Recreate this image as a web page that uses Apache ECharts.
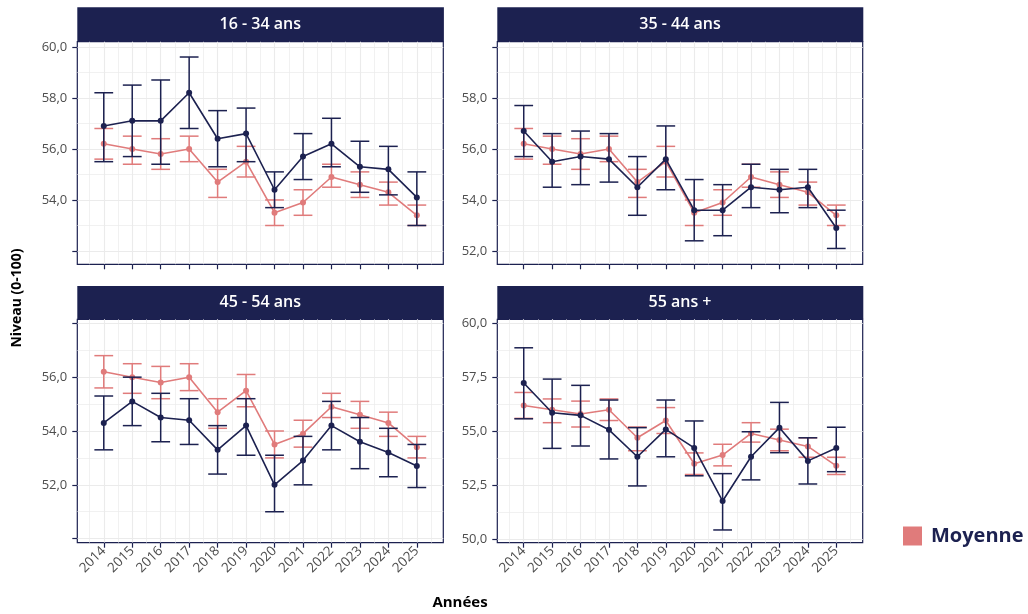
<!DOCTYPE html>
<html>
<head>
<meta charset="utf-8">
<script src="https://cdn.jsdelivr.net/npm/echarts@6/dist/echarts.min.js"></script>
<style>
html,body{margin:0;padding:0;background:#fff;}
#chart{width:1028px;height:614px;}
</style>
</head>
<body>
<div id="chart"></div>
<script>
// ---- Data ----
const years = [2014, 2015, 2016, 2017, 2018, 2019, 2020, 2021, 2022, 2023, 2024, 2025];

const moyenne   = [56.2, 56.0, 55.8, 56.0, 54.7, 55.5, 53.5, 53.9, 54.9, 54.6, 54.3, 53.4];
const moyenneLo = [55.6, 55.4, 55.2, 55.5, 54.1, 54.9, 53.0, 53.4, 54.5, 54.1, 53.8, 53.0];
const moyenneHi = [56.8, 56.5, 56.4, 56.5, 55.2, 56.1, 54.0, 54.4, 55.4, 55.1, 54.7, 53.8];

const g1634   = [56.9, 57.1, 57.1, 58.2, 56.4, 56.6, 54.4, 55.7, 56.2, 55.3, 55.2, 54.1];
const g1634Lo = [55.5, 55.7, 55.4, 56.8, 55.3, 55.5, 53.7, 54.8, 55.3, 54.3, 54.2, 53.0];
const g1634Hi = [58.2, 58.5, 58.7, 59.6, 57.5, 57.6, 55.1, 56.6, 57.2, 56.3, 56.1, 55.1];

const g3544   = [56.7, 55.5, 55.7, 55.6, 54.5, 55.6, 53.6, 53.6, 54.5, 54.4, 54.5, 52.9];
const g3544Lo = [55.7, 54.5, 54.6, 54.7, 53.4, 54.4, 52.4, 52.6, 53.7, 53.5, 53.7, 52.1];
const g3544Hi = [57.7, 56.6, 56.7, 56.6, 55.7, 56.9, 54.8, 54.6, 55.4, 55.2, 55.2, 53.6];

const g4554   = [54.3, 55.1, 54.5, 54.4, 53.3, 54.2, 52.0, 52.9, 54.2, 53.6, 53.2, 52.7];
const g4554Lo = [53.3, 54.2, 53.6, 53.5, 52.4, 53.1, 51.0, 52.0, 53.3, 52.6, 52.3, 51.9];
const g4554Hi = [55.3, 56.0, 55.4, 55.2, 54.2, 55.2, 53.1, 53.8, 55.1, 54.5, 54.1, 53.5];

const g55   = [57.24, 55.86, 55.74, 55.07, 53.82, 55.09, 54.23, 51.77, 53.82, 55.17, 53.63, 54.23];
const g55Lo = [55.58, 54.21, 54.32, 53.72, 52.47, 53.82, 52.94, 50.43, 52.75, 54.01, 52.56, 53.13];
const g55Hi = [58.87, 57.42, 57.13, 56.45, 55.17, 56.45, 55.48, 53.04, 54.98, 56.34, 54.70, 55.19];

const panelTitles = ['16 - 34 ans', '35 - 44 ans', '45 - 54 ans', '55 ans +'];

// y tick marks, labelled ticks, minor grid values per panel
const yTicks1 = [52, 54, 56, 58, 60];
const yLabels1 = [54, 56, 58, 60];
const yMinor1 = [53, 55, 57, 59];
const yTicks2 = [52, 54, 56, 58, 60];
const yLabels2 = [52, 54, 56, 58];
const yMinor2 = [53, 55, 57, 59];
const yTicks3 = [50, 52, 54, 56, 58];
const yLabels3 = [52, 54, 56];
const yMinor3 = [51, 53, 55, 57];
const yTicks4 = [50, 52.5, 55, 57.5, 60];
const yLabels4 = [50, 52.5, 55, 57.5, 60];
const yMinor4 = [51.25, 53.75, 56.25, 58.75];

const xMinor = [2013.5, 2014.5, 2015.5, 2016.5, 2017.5, 2018.5, 2019.5, 2020.5, 2021.5, 2022.5, 2023.5, 2024.5, 2025.5];

// ---- Layout / style ----
const NAVY = '#1C2150';
const SALMON = '#E07B7B';
const GRIDC = '#EBEBEB';
const FONT = 'Open Sans';

const groups = [
  {v: g1634, lo: g1634Lo, hi: g1634Hi, ticks: yTicks1, labels: yLabels1, minor: yMinor1, ymin: 51.48, ymax: 60.2},
  {v: g3544, lo: g3544Lo, hi: g3544Hi, ticks: yTicks2, labels: yLabels2, minor: yMinor2, ymin: 51.48, ymax: 60.2},
  {v: g4554, lo: g4554Lo, hi: g4554Hi, ticks: yTicks3, labels: yLabels3, minor: yMinor3, ymin: 49.85, ymax: 58.15},
  {v: g55,   lo: g55Lo,   hi: g55Hi,   ticks: yTicks4, labels: yLabels4, minor: yMinor4, ymin: 49.84, ymax: 60.19}
];

const boxes = [
  {left: 77.3, top: 41.7, width: 366, height: 222.6, stripTop: 7.3, stripH: 34.4, xlabels: false},
  {left: 497.3, top: 41.7, width: 365.4, height: 222.6, stripTop: 7.3, stripH: 34.4, xlabels: false},
  {left: 77.3, top: 319.3, width: 366, height: 223.4, stripTop: 286, stripH: 33.3, xlabels: true},
  {left: 497.3, top: 319.3, width: 365.4, height: 223.4, stripTop: 286, stripH: 33.3, xlabels: true}
];

const XMIN = 2013.07, XMAX = 2025.93;

function errRender(color) {
  return function (params, api) {
    const x = api.value(0), lo = api.value(1), hi = api.value(2);
    const t = api.coord([x, hi]);
    const b = api.coord([x, lo]);
    const hw = api.size([0.33, 0])[0];
    const style = {stroke: color, lineWidth: 1.5, fill: null};
    return {
      type: 'group',
      children: [
        {type: 'line', shape: {x1: t[0], y1: t[1], x2: b[0], y2: b[1]}, style: style},
        {type: 'line', shape: {x1: t[0] - hw, y1: t[1], x2: t[0] + hw, y2: t[1]}, style: style},
        {type: 'line', shape: {x1: b[0] - hw, y1: b[1], x2: b[0] + hw, y2: b[1]}, style: style}
      ]
    };
  };
}

const fmtY = v => Number(v).toFixed(1).replace('.', ',');

const grid = [], xAxis = [], yAxis = [], series = [], graphic = [];

groups.forEach((g, i) => {
  const bx = boxes[i];
  grid.push({left: bx.left, top: bx.top, width: bx.width, height: bx.height, show: true,
    borderColor: NAVY, borderWidth: 1.2, backgroundColor: '#fff', containLabel: false});

  xAxis.push({
    type: 'value', gridIndex: i, min: XMIN, max: XMAX, position: 'bottom',
    axisLine: {show: false, onZero: false},
    axisTick: {show: true, length: 5, customValues: years, lineStyle: {color: NAVY, width: 1.2}},
    axisLabel: {show: bx.xlabels, customValues: years, rotate: 45, margin: 6,
      formatter: v => String(Math.round(v)), color: '#4D4D4D', fontSize: 13.5, fontFamily: FONT},
    splitLine: {show: true, lineStyle: {color: GRIDC, width: 1.1}}
  });
  xAxis.push({
    type: 'value', gridIndex: i, min: XMIN, max: XMAX, position: 'top',
    axisLine: {show: false, onZero: false},
    axisTick: {show: false, customValues: xMinor},
    axisLabel: {show: false},
    splitLine: {show: true, lineStyle: {color: GRIDC, width: 0.7}}
  });
  yAxis.push({
    type: 'value', gridIndex: i, min: g.ymin, max: g.ymax, position: 'left',
    axisLine: {show: false, onZero: false},
    axisTick: {show: true, length: 5, customValues: g.ticks, lineStyle: {color: NAVY, width: 1.2}},
    axisLabel: {show: true, customValues: g.labels, formatter: fmtY, margin: 10,
      color: '#4D4D4D', fontSize: 13, fontFamily: FONT},
    splitLine: {show: true, lineStyle: {color: GRIDC, width: 1.1}}
  });
  yAxis.push({
    type: 'value', gridIndex: i, min: g.ymin, max: g.ymax, position: 'right',
    axisLine: {show: false, onZero: false},
    axisTick: {show: false, customValues: g.minor},
    axisLabel: {show: false},
    splitLine: {show: true, lineStyle: {color: GRIDC, width: 0.7}}
  });

  const xi = 2 * i, yi = 2 * i;

  series.push({
    name: 'MoyenneIC', type: 'custom', xAxisIndex: xi, yAxisIndex: yi,
    renderItem: errRender(SALMON), encode: {x: 0, y: [1, 2]}, z: 2,
    data: years.map((y, k) => [y, moyenneLo[k], moyenneHi[k]])
  });
  series.push({
    name: 'Moyenne', type: 'line', xAxisIndex: xi, yAxisIndex: yi, z: 3,
    symbol: 'circle', symbolSize: 6, color: SALMON,
    lineStyle: {color: SALMON, width: 1.6}, itemStyle: {color: SALMON},
    data: years.map((y, k) => [y, moyenne[k]])
  });
  series.push({
    name: 'GroupeIC', type: 'custom', xAxisIndex: xi, yAxisIndex: yi,
    renderItem: errRender(NAVY), encode: {x: 0, y: [1, 2]}, z: 4,
    data: years.map((y, k) => [y, g.lo[k], g.hi[k]])
  });
  series.push({
    name: panelTitles[i], type: 'line', xAxisIndex: xi, yAxisIndex: yi, z: 5,
    symbol: 'circle', symbolSize: 6, color: NAVY,
    lineStyle: {color: NAVY, width: 1.6}, itemStyle: {color: NAVY},
    data: years.map((y, k) => [y, g.v[k]])
  });

  graphic.push({
    type: 'rect', left: bx.left, top: bx.stripTop,
    shape: {width: bx.width + 0.6, height: bx.stripH},
    style: {fill: NAVY}
  });
  graphic.push({
    type: 'text', x: bx.left + bx.width / 2, y: bx.stripTop + bx.stripH / 2,
    style: {text: panelTitles[i], fill: '#fff', font: '600 16px "Open Sans"',
      textAlign: 'center', textVerticalAlign: 'middle'}
  });
});

graphic.push({
  type: 'text', x: 17, y: 298, rotation: Math.PI / 2,
  style: {text: 'Niveau (0-100)', fill: '#000', font: 'bold 14px "Open Sans"',
    textAlign: 'center', textVerticalAlign: 'middle'}
});
graphic.push({
  type: 'text', x: 460, y: 603,
  style: {text: 'Années', fill: '#000', font: 'bold 15px "Open Sans"',
    textAlign: 'center', textVerticalAlign: 'middle'}
});

const chart = echarts.init(document.getElementById('chart'), null, {renderer: 'canvas'});
chart.setOption({
  animation: false,
  backgroundColor: '#fff',
  textStyle: {fontFamily: FONT},
  legend: {
    data: ['Moyenne'], left: 903, top: 526, padding: 0, icon: 'rect', itemWidth: 19, itemHeight: 19,
    selectedMode: false,
    textStyle: {color: NAVY, fontSize: 20, fontWeight: 'bold', fontFamily: FONT, padding: [0, 0, 0, 4]}
  },
  grid: grid, xAxis: xAxis, yAxis: yAxis, series: series, graphic: graphic
});
</script>
</body>
</html>
